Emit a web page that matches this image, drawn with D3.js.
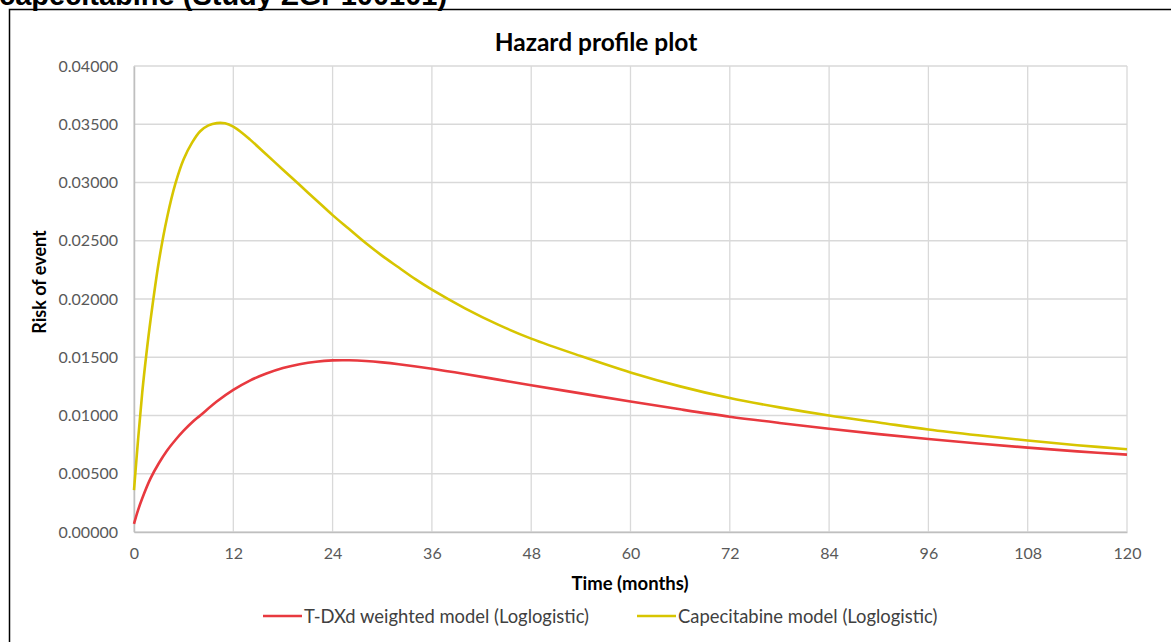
<!DOCTYPE html>
<html><head><meta charset="utf-8">
<script src="https://cdn.jsdelivr.net/npm/d3@7"></script>
<style>
body{margin:0;background:#fff;}
svg{display:block;}
</style></head>
<body>
<svg id="c" width="1171" height="642"></svg>
<script>
const seriesNames = ["T-DXd weighted model (Loglogistic)", "Capecitabine model (Loglogistic)"];
const tdxdTime = [0,0.5,1,2,3,4,5,6,7,8,10,12,14,16,18,20,22,24,26,28,30,32,36,40,44,48,54,60,66,72,78,84,90,96,102,108,114,120];
const tdxdRisk = [0.0007,0.0019,0.0029,0.0046,0.0059,0.0070,0.0079,0.0087,0.0094,0.0100,0.0112,0.0122,0.0130,0.0136,0.01408,0.0144,0.01462,0.01473,0.01474,0.01468,0.01456,0.0144,0.01401,0.01356,0.01308,0.0126,0.0119,0.0112,0.01053,0.0099,0.00936,0.00886,0.0084,0.00798,0.0076,0.00724,0.00692,0.00664];
const capeTime = [0,0.5,1,1.5,2,3,4,5,6,7,8,9,10,11,12,13,14,16,18,20,22,24,26,28,30,32,34,36,40,44,48,54,60,66,72,78,84,90,96,102,108,114,120];
const capeRisk = [0.0036,0.0080,0.0120,0.0153,0.0182,0.0232,0.0270,0.0299,0.0320,0.0334,0.0344,0.0349,0.0351,0.03508,0.0348,0.0343,0.0337,0.0324,0.0311,0.0298,0.0285,0.0272,0.0260,0.0248,0.0237,0.0227,0.0217,0.0208,0.0192,0.0178,0.0166,0.0151,0.0137,0.0125,0.0115,0.0107,0.0100,0.0094,0.0088,0.0083,0.00785,0.00745,0.0071];
const xTicks = [0,12,24,36,48,60,72,84,96,108,120];
const yTicks = [0,0.005,0.01,0.015,0.02,0.025,0.03,0.035,0.04];
const colors = ["#e8393f", "#d7c500"];

const svg = d3.select("#c");
const font = "Lato, 'Open Sans', sans-serif";

// page header cut off at top
svg.append("text").attr("x", -1).attr("y", 5)
  .attr("font-family", "'Liberation Sans', Arial, sans-serif").attr("font-weight", "bold").attr("font-size", 29)
  .attr("fill", "#000").text("capecitabine (Study ZGP100101)");

// frame
svg.append("path").attr("d", "M9.5,642 L9.5,9.5 L1171,9.5").attr("fill", "none").attr("stroke", "#000").attr("stroke-width", 1.5);

const x = d3.scaleLinear().domain([0,120]).range([134,1127]);
const y = d3.scaleLinear().domain([0,0.04]).range([532,66]);

// grid
svg.append("g").selectAll("line").data(yTicks).join("line")
  .attr("x1", x(0)).attr("x2", x(120)).attr("y1", d => y(d)).attr("y2", d => y(d))
  .attr("stroke", "#d9d9d9").attr("stroke-width", 1.3);
svg.append("g").selectAll("line").data(xTicks).join("line")
  .attr("y1", y(0)).attr("y2", y(0.04)).attr("x1", d => x(d)).attr("x2", d => x(d))
  .attr("stroke", "#d9d9d9").attr("stroke-width", 1.3);

// axes
const xAxis = svg.append("g").attr("transform", `translate(0,${y(0)})`)
  .call(d3.axisBottom(x).tickValues(xTicks).tickSize(0).tickPadding(16));
const yAxis = svg.append("g").attr("transform", `translate(${x(0)},0)`)
  .call(d3.axisLeft(y).tickValues(yTicks).tickSize(0).tickPadding(16).tickFormat(d3.format(".5f")));
[xAxis, yAxis].forEach(g => {
  g.select(".domain").attr("stroke", "#bfbfbf").attr("stroke-width", 1.5);
  g.selectAll("text").attr("font-family", font).attr("font-size", 16).attr("fill", "#595959");
});

// lines
const line = d3.line().x(d => x(d[0])).y(d => y(d[1])).curve(d3.curveCatmullRom.alpha(0.5));
const series = [d3.zip(tdxdTime, tdxdRisk), d3.zip(capeTime, capeRisk)];
svg.append("g").selectAll("path").data(series).join("path")
  .attr("d", line).attr("fill", "none")
  .attr("stroke", (d,i) => colors[i]).attr("stroke-width", 2.6).attr("stroke-linejoin", "round");

// title
svg.append("text").attr("x", 596).attr("y", 51).attr("text-anchor", "middle")
  .attr("font-family", font).attr("font-weight", "bold").attr("font-size", 24.5).attr("fill", "#000")
  .text("Hazard profile plot");

// axis titles
svg.append("text").attr("x", 630).attr("y", 590).attr("text-anchor", "middle")
  .attr("font-family", font).attr("font-weight", "bold").attr("font-size", 18.5).attr("fill", "#000")
  .text("Time (months)");
svg.append("text").attr("transform", "translate(46,282) rotate(-90)").attr("text-anchor", "middle")
  .attr("font-family", font).attr("font-weight", "bold").attr("font-size", 18).attr("fill", "#000")
  .text("Risk of event");

// legend
const legX = [263, 637];
const leg = svg.append("g").selectAll("g").data(seriesNames).join("g")
  .attr("transform", (d,i) => `translate(${legX[i]},616)`);
leg.append("line").attr("x1", 0).attr("x2", 39).attr("y1", 0).attr("y2", 0)
  .attr("stroke", (d,i) => colors[i]).attr("stroke-width", 2.6);
leg.append("text").attr("x", 41).attr("y", 6.5).attr("font-family", font).attr("font-size", 18.4)
  .attr("fill", "#404040").text(d => d);
</script>
</body></html>
